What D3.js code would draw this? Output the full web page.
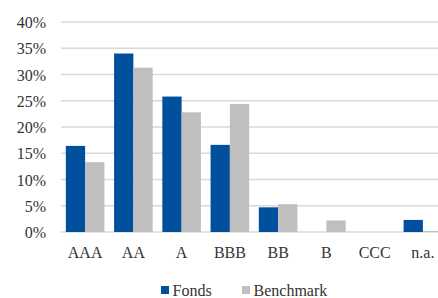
<!DOCTYPE html>
<html><head><meta charset="utf-8">
<script src="https://cdn.jsdelivr.net/npm/d3@7"></script>
<style>
html,body{margin:0;padding:0;background:#fff;}
svg text{font-family:"Liberation Serif","DejaVu Serif","Times New Roman",serif !important;}
</style></head>
<body><svg id="c" width="438" height="298"></svg>
<script>
const categories = ["AAA","AA","A","BBB","BB","B","CCC","n.a."];
const fonds = [16.4, 34.0, 25.8, 16.6, 4.7, 0, 0, 2.3];
const benchmark = [13.3, 31.3, 22.8, 24.4, 5.3, 2.2, 0, 0.2];
const yTicks = [0,5,10,15,20,25,30,35,40];
const seriesNames = ["Fonds","Benchmark"];
const colors = ["#00509e","#bfbfbf"];
const FONT = "'Liberation Serif','DejaVu Serif',serif";

const svg = d3.select("#c");
const x0 = d3.scaleBand().domain(categories).range([61, 447]).paddingInner(0.2).paddingOuter(0.1);
const x1 = d3.scaleBand().domain(seriesNames).range([0, x0.bandwidth()]);
const y = d3.scaleLinear().domain([0,40]).range([232,22]);

svg.append("g").selectAll("line").data(yTicks).join("line")
  .attr("x1",61).attr("x2",438)
  .attr("y1",d=>y(d)).attr("y2",d=>y(d))
  .attr("stroke","#d9d9d9").attr("stroke-width",1.3);

const yAxis = d3.axisLeft(y).tickValues(yTicks).tickFormat(d=>d+"%").tickSize(0).tickPadding(0);
const ga = svg.append("g").attr("transform","translate(46,0)").call(yAxis);
ga.select(".domain").remove();
ga.selectAll("text").attr("font-size",16).attr("fill","#333").attr("dy","0.35em");

const data = [fonds, benchmark];
data.forEach((vals,si)=>{
  svg.append("g").selectAll("rect").data(vals).join("rect")
    .attr("x",(d,i)=>x0(categories[i]) + x1(seriesNames[si]))
    .attr("width",x1.bandwidth())
    .attr("y",d=>y(d))
    .attr("height",d=>y(0)-y(d))
    .attr("fill",colors[si]);
});

const xAxis = d3.axisBottom(x0).tickSize(0).tickPadding(0);
const gx = svg.append("g").attr("transform","translate(0,247)").call(xAxis);
gx.select(".domain").remove();
gx.selectAll("text").attr("font-size",16).attr("fill","#333").attr("dy","0.71em");

const legX = [161, 242];
seriesNames.forEach((n,i)=>{
  const g = svg.append("g").attr("transform",`translate(${legX[i]},0)`);
  g.append("rect").attr("x",0).attr("y",286).attr("width",8).attr("height",8).attr("fill",colors[i]);
  g.append("text").attr("x",11.5).attr("y",295.5).attr("font-size",16).attr("font-family",FONT).attr("fill","#333").text(n);
});
</script></body></html>
